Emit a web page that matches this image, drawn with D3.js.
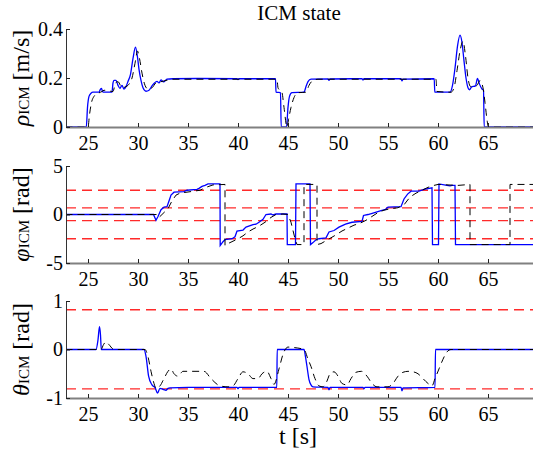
<!DOCTYPE html>
<html><head><meta charset="utf-8">
<script src="https://cdn.jsdelivr.net/npm/d3@7"></script>
<style>
body{margin:0;background:#fff}
svg{display:block;font-family:"Liberation Serif","Times New Roman",serif}
</style></head><body>
<svg id="chart" width="533" height="451"></svg>
<script>
// tick values
const T_TICKS = [25, 30, 35, 40, 45, 50, 55, 60, 65];
const RHO_TICKS = [0, 0.2, 0.4];
const PHI_TICKS = [-5, 0, 5];
const THETA_TICKS = [-1, 0, 1];

// red dashed limit lines
const PHI_LIMITS = [2.5, 0.68, -0.64, -2.5];
const THETA_LIMITS = [0.82, -0.81];

// rho_ICM : measured (blue) and reference (black dashed), [t, value]
const rhoMeas = [[22.75,0],[24.83,0],[24.95,0.08],[25.1,0.125],[25.3,0.138],[25.5,0.142],[26.1,0.142],[26.25,0.155],[26.35,0.158],[26.45,0.145],[26.6,0.142],[27.4,0.142],[27.5,0.18],[27.6,0.19],[27.8,0.19],[28.0,0.17],[28.2,0.158],[28.4,0.17],[28.6,0.155],[28.8,0.165],[29.0,0.186],[29.25,0.215],[29.5,0.28],[29.75,0.326],[29.95,0.285],[30.1,0.235],[30.3,0.19],[30.5,0.16],[30.8,0.146],[31.1,0.15],[31.4,0.168],[31.65,0.18],[31.9,0.186],[32.1,0.18],[32.3,0.192],[32.55,0.184],[32.9,0.195],[33.5,0.197],[36,0.198],[39.9,0.197],[40.0,0.193],[40.1,0.197],[43.75,0.197],[43.8,0.142],[44.25,0.14],[44.32,0],[44.85,0],[45.0,0.08],[45.15,0.125],[45.4,0.14],[46.6,0.142],[46.8,0.165],[47.0,0.185],[47.3,0.195],[49.0,0.196],[49.1,0.19],[49.2,0.196],[52.4,0.197],[52.5,0.192],[52.6,0.197],[56.3,0.197],[56.4,0.188],[56.5,0.195],[59.62,0.197],[59.68,0.142],[61.2,0.142],[61.45,0.17],[61.7,0.24],[61.95,0.33],[62.2,0.375],[62.4,0.345],[62.6,0.27],[62.8,0.2],[63.0,0.16],[63.15,0.152],[63.35,0.163],[63.75,0.168],[63.95,0.198],[64.15,0.175],[64.4,0.155],[64.55,0.15],[64.62,0],[69.6,0]];
const rhoRef = [[22.75,0],[25.0,0],[25.15,0.05],[25.35,0.1],[25.6,0.125],[25.9,0.135],[26.4,0.145],[26.6,0.15],[27.5,0.145],[27.75,0.18],[28.0,0.185],[28.4,0.16],[28.7,0.163],[29.1,0.175],[29.4,0.2],[29.7,0.26],[29.95,0.31],[30.15,0.28],[30.4,0.22],[30.7,0.17],[31.0,0.155],[31.4,0.16],[31.8,0.18],[32.3,0.185],[32.8,0.19],[33.5,0.195],[43.9,0.195],[44.0,0.16],[44.4,0.14],[44.6,0.08],[44.9,0.0],[45.05,0.03],[45.3,0.08],[45.6,0.12],[46.0,0.14],[46.8,0.142],[47.1,0.17],[47.5,0.19],[48,0.195],[59.8,0.195],[59.9,0.145],[61.3,0.142],[61.6,0.16],[61.9,0.23],[62.2,0.31],[62.5,0.35],[62.75,0.29],[63.0,0.2],[63.25,0.165],[63.5,0.163],[63.9,0.17],[64.2,0.19],[64.5,0.16],[64.7,0.1],[64.9,0.03],[65.05,0],[69.6,0]];

// phi_ICM
const phiMeas = [[22.75,0],[31.55,0],[31.8,-0.6],[32.0,-0.2],[32.3,0.5],[32.6,0.75],[32.9,0.8],[33.1,1.4],[33.3,2.0],[33.6,2.3],[34.6,2.35],[34.9,2.5],[35.9,2.6],[36.1,2.7],[36.4,2.9],[36.7,3.0],[37.0,3.15],[38.2,3.15],[38.22,-3.2],[38.5,-2.8],[38.7,-2.6],[39.4,-2.5],[39.7,-2.3],[39.9,-1.7],[40.5,-1.6],[40.8,-1.3],[41.5,-1.05],[41.8,-1.0],[42.1,-0.8],[42.5,-0.5],[42.8,0.0],[43.3,0.05],[43.5,-0.05],[43.8,0.05],[44.9,0.05],[44.93,-3.1],[45.75,-3.1],[45.8,3.15],[47.2,3.15],[47.25,-3.1],[47.5,-2.9],[47.8,-2.6],[48.1,-2.5],[48.8,-2.4],[49.1,-1.8],[49.6,-1.65],[50.1,-1.3],[50.75,-1.0],[51.4,-0.8],[52.4,-0.7],[52.55,-0.1],[53.0,0.0],[53.5,0.15],[54.3,0.4],[54.7,0.5],[55.0,0.75],[56.3,0.8],[56.6,1.6],[56.96,2.1],[57.3,2.4],[58.1,2.4],[58.6,2.6],[59.4,2.75],[59.45,-3.1],[60.05,-3.1],[60.1,3.15],[60.9,3.0],[61.2,2.95],[61.4,3.0],[61.7,3.0],[61.75,-3.1],[69.6,-3.1]];
const phiRef = [[22.75,0],[31.9,0],[32.1,-0.3],[32.3,-0.1],[32.6,0.2],[33.0,0.6],[33.4,1.4],[33.8,2.0],[34.2,2.2],[35.2,2.35],[36.2,2.5],[36.8,2.8],[37.5,3.05],[38.7,3.1],[38.7,-3.2],[39.0,-3.0],[39.4,-2.8],[40.0,-2.5],[40.5,-2.2],[41.0,-1.8],[41.5,-1.5],[42.1,-1.2],[42.7,-0.8],[43.3,-0.3],[43.8,0.0],[44.5,0.05],[45.0,0.0],[45.3,-0.8],[45.7,-2.5],[45.9,-3.1],[46.6,-3.1],[46.6,3.1],[47.9,3.1],[47.9,-3.1],[48.3,-3.0],[48.8,-2.7],[49.3,-2.4],[49.8,-2.1],[50.4,-1.7],[51.0,-1.4],[51.6,-1.1],[52.2,-0.9],[52.8,-0.6],[53.4,-0.2],[54.0,0.2],[54.6,0.45],[55.3,0.6],[56.0,0.7],[56.6,1.0],[57.2,1.8],[57.8,2.2],[58.4,2.5],[59.0,2.8],[59.6,3.0],[60.0,3.1],[61.0,3.05],[62.0,3.0],[63.2,3.1],[63.2,-3.1],[67.2,-3.1],[67.2,3.1],[69.6,3.1]];

// theta_ICM
const thetaMeas = [[22.75,0],[25.8,0],[26.0,0.2],[26.15,0.47],[26.25,0.3],[26.33,0],[30.6,0],[30.8,-0.14],[31.06,-0.55],[31.4,-0.73],[31.72,-0.79],[31.95,-0.9],[32.2,-0.8],[32.5,-0.82],[32.8,-0.84],[33.0,-0.8],[33.2,-0.79],[35,-0.78],[39.9,-0.78],[40.0,-0.81],[40.1,-0.78],[43.88,-0.78],[43.92,0],[46.6,0],[46.75,-0.15],[46.9,-0.35],[47.1,-0.62],[47.3,-0.73],[47.5,-0.77],[49.0,-0.78],[49.1,-0.83],[49.2,-0.78],[52.5,-0.78],[52.6,-0.81],[52.7,-0.78],[56.3,-0.78],[56.4,-0.85],[56.5,-0.79],[59.7,-0.78],[59.75,0],[69.6,0]];
const thetaRef = [[22.75,0],[26.3,0],[26.55,0.1],[26.8,0.16],[27.1,0.1],[27.6,0],[30.7,0],[31.0,-0.15],[31.3,-0.45],[31.6,-0.7],[31.8,-0.8],[32.2,-0.75],[32.6,-0.6],[33.0,-0.45],[33.3,-0.4],[33.6,-0.5],[34.0,-0.55],[34.5,-0.45],[35.3,-0.45],[36.6,-0.45],[37.3,-0.6],[38.2,-0.75],[39.0,-0.77],[39.5,-0.75],[40.0,-0.6],[40.5,-0.46],[41.0,-0.5],[41.5,-0.6],[42.0,-0.6],[42.4,-0.5],[42.9,-0.45],[43.3,-0.6],[43.6,-0.72],[44.1,-0.4],[44.5,-0.1],[45.0,0.05],[45.6,0.04],[46.6,0],[47.0,-0.2],[47.3,-0.35],[47.7,-0.6],[48.1,-0.75],[48.5,-0.77],[48.9,-0.65],[49.2,-0.5],[49.6,-0.46],[50.0,-0.55],[50.4,-0.7],[50.9,-0.73],[51.3,-0.6],[51.8,-0.47],[52.35,-0.45],[52.9,-0.55],[53.4,-0.7],[53.9,-0.77],[55.0,-0.77],[55.5,-0.7],[56.0,-0.55],[56.5,-0.47],[57.0,-0.45],[57.5,-0.46],[58.0,-0.5],[58.5,-0.6],[59.0,-0.7],[59.4,-0.75],[59.7,-0.6],[60.1,-0.4],[60.5,-0.2],[60.9,-0.05],[61.3,0],[69.6,0]];

const svg = d3.select('#chart');
const LEFT = 66, RIGHT = 533;

// t=25 sits at x=88, 10 px per second
const x = d3.scaleLinear().domain([22.8, 69.5]).range([LEFT, RIGHT]);

const panels = [
  { top: 29, bottom: 127, domain: [0, 0.4], ticks: RHO_TICKS, limits: [], meas: rhoMeas, ref: rhoRef,
    sym: 'ρ', unit: ' [m/s]', curve: d3.curveMonotoneX },
  { top: 166, bottom: 263, domain: [-5, 5], ticks: PHI_TICKS, limits: PHI_LIMITS, meas: phiMeas, ref: phiRef,
    sym: 'φ', unit: ' [rad]', curve: d3.curveLinear },
  { top: 301, bottom: 398, domain: [-1, 1], ticks: THETA_TICKS, limits: THETA_LIMITS, meas: thetaMeas, ref: thetaRef,
    sym: 'θ', unit: ' [rad]', curve: d3.curveMonotoneX },
];

// title
svg.append('text')
  .attr('x', 299).attr('y', 20)
  .attr('text-anchor', 'middle')
  .attr('font-size', 21)
  .text('ICM state');

panels.forEach((p, i) => {
  const y = d3.scaleLinear().domain(p.domain).range([p.bottom, p.top]);
  const g = svg.append('g');

  g.append('clipPath').attr('id', 'clip' + i)
    .append('rect')
    .attr('x', LEFT).attr('y', p.top - 2)
    .attr('width', RIGHT - LEFT).attr('height', p.bottom - p.top + 4);

  const plot = g.append('g').attr('clip-path', `url(#clip${i})`);

  plot.selectAll('.limit').data(p.limits).enter()
    .append('line')
    .attr('x1', LEFT).attr('x2', RIGHT)
    .attr('y1', d => y(d)).attr('y2', d => y(d))
    .attr('stroke', '#ff2a2a').attr('stroke-width', 1.3)
    .attr('stroke-dasharray', '10,6');

  const line = d3.line().x(d => x(d[0])).y(d => y(d[1])).curve(p.curve);

  plot.append('path').datum(p.meas)
    .attr('d', line)
    .attr('fill', 'none').attr('stroke', '#0000ff').attr('stroke-width', 1.3);

  plot.append('path').datum(p.ref)
    .attr('d', line)
    .attr('fill', 'none').attr('stroke', '#000').attr('stroke-width', 1)
    .attr('stroke-dasharray', '7,5');

  // x axis
  const xAxis = g.append('g')
    .attr('transform', `translate(0,${p.bottom})`)
    .call(d3.axisBottom(x).tickValues(T_TICKS).tickSizeInner(-4).tickSizeOuter(0).tickPadding(5));
  xAxis.select('.domain').attr('stroke', '#808080').attr('stroke-width', 2);
  xAxis.selectAll('.tick line').attr('stroke', '#222');
  xAxis.selectAll('.tick text')
    .attr('font-family', '"Liberation Serif", serif')
    .attr('font-size', 20).attr('fill', '#000')
    .attr('dy', '0.9em');

  // y axis
  const yAxis = g.append('g')
    .attr('transform', `translate(${LEFT},0)`)
    .call(d3.axisLeft(y).tickValues(p.ticks).tickSizeInner(-4).tickSizeOuter(0).tickPadding(3)
      .tickFormat(d => String(d)));
  yAxis.select('.domain').attr('stroke', '#333');
  yAxis.selectAll('.tick line').attr('stroke', '#222');
  yAxis.selectAll('.tick text')
    .attr('font-family', '"Liberation Serif", serif')
    .attr('font-size', 20).attr('fill', '#000');

  // y label
  const lbl = svg.append('text')
    .attr('transform', `translate(29,${(p.top + p.bottom) / 2}) rotate(-90)`)
    .attr('text-anchor', 'middle')
    .attr('font-size', 24);
  lbl.append('tspan').attr('font-style', 'italic').text(p.sym);
  lbl.append('tspan').attr('font-size', 15).text('ICM');
  lbl.append('tspan').text(p.unit);
});

svg.append('text')
  .attr('x', 298).attr('y', 444)
  .attr('text-anchor', 'middle')
  .attr('font-size', 24)
  .text('t [s]');
</script>
</body></html>
